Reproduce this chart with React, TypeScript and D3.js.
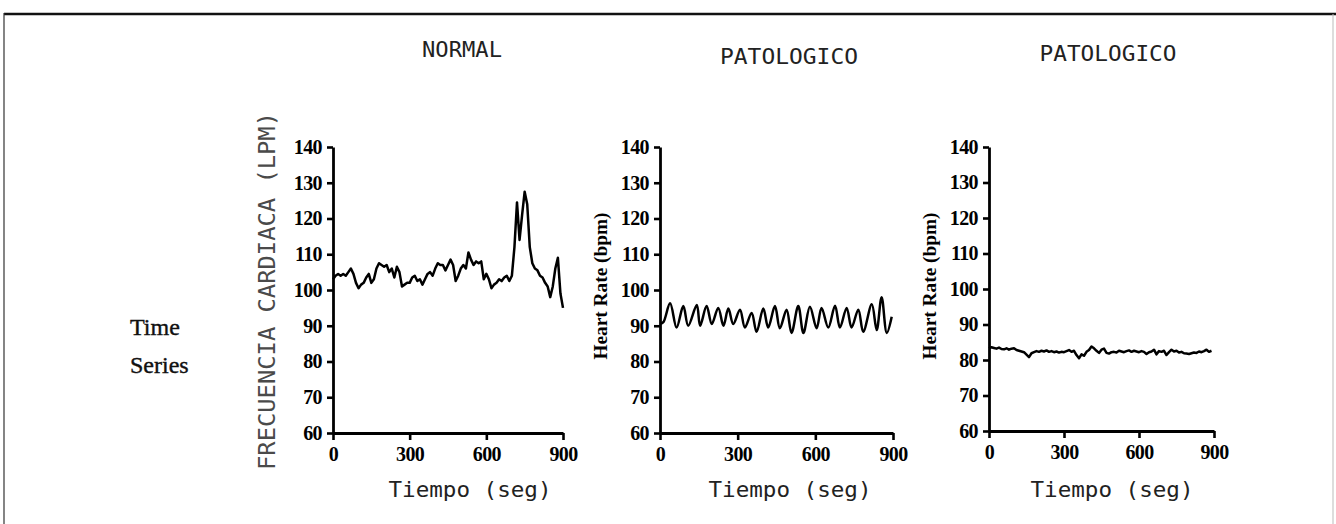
import { useEffect, useRef } from 'react';
import * as d3 from 'd3';

// axis ticks shared by the three panels
const yTicks = [60, 70, 80, 90, 100, 110, 120, 130, 140];
const xTicks = [0, 300, 600, 900];
const panelTitles = ['NORMAL', 'PATOLOGICO', 'PATOLOGICO'];
const yLabels = ['FRECUENCIA CARDIACA  (LPM)', 'Heart Rate (bpm)', 'Heart Rate (bpm)'];
const xLabel = 'Tiempo (seg)';
const rowLabel = ['Time', 'Series'];

// seconds between samples for the recorded series
const SAMPLE_STEP = 10;

// NORMAL, bpm every 10 s (0..900)
const normalHR = [
  103, 104, 104.5, 104, 104.5, 104, 105, 106, 104.5, 102,
  100.5, 101.5, 102, 103.5, 104.5, 102, 103, 106, 107.5, 107,
  106.5, 107, 105, 106, 103.5, 106.5, 105, 101, 101.5, 102,
  102, 103.5, 104, 102.5, 103, 101.5, 103, 104.5, 105, 104,
  106, 107.5, 107, 107, 105.5, 107, 108.5, 107, 102.5, 104,
  106, 107, 106, 110.5, 108.5, 107, 108, 107.5, 108, 103,
  104.5, 103, 100.5, 101.5, 102, 103, 102.5, 103.5, 104, 102.5,
  104, 112, 124.5, 114, 121, 127.5, 124, 112, 107.5, 106,
  105.5, 104, 103.5, 102, 101, 98, 101, 106, 109, 99,
  95
];

// PATOLOGICO (oscillating): turning points
const oscTime = [
  0, 13, 39, 64, 90, 109, 142, 155, 180, 200, 225, 245, 264, 283, 309, 328,
  354, 373, 399, 418, 444, 463, 489, 508, 534, 554, 579, 605, 624, 650, 676,
  695, 721, 740, 766, 785, 818, 837, 856, 876, 895
];
const oscHR = [
  90.5, 91, 96.3, 89.5, 95.5, 90, 95.8, 90, 95.5, 90.5, 95, 90, 94.8, 90.5, 94.5, 89.5,
  93.6, 88.3, 94.8, 89.5, 95.5, 89.3, 94.5, 88, 95.5, 88, 95.3, 89.3, 95, 89.5, 95.6,
  89.5, 95, 89.5, 94.5, 88.3, 96, 88.8, 98, 88, 92.5
];

// PATOLOGICO (flat), bpm every 10 s (0..890)
const flatHR = [
  83.3, 83.6, 83.4, 83.2, 83.5, 83.1, 83, 83.3, 82.9, 83.2,
  83.3, 82.8, 82.6, 82.4, 82.2, 81.5, 80.8, 81.9, 82.2, 82.5,
  82.3, 82.6, 82.4, 82.7, 82.3, 82.5, 82.2, 82.4, 82.1, 82.3,
  82.2, 82.5, 82.8, 82.3, 82.6, 81.4, 80.5, 81.6, 81.2, 82.3,
  82.8, 83.8, 83.3, 82.6, 82, 82.9, 83.2, 82, 81.8, 82.2,
  82.3, 82.1, 82.6, 82.4, 82.2, 82.5, 82.7, 82.3, 82.6, 82.4,
  82.2, 82.5, 82.3, 81.7, 82.2, 82.4, 82.9, 81.6, 82.5, 82.3,
  82.6, 81.4, 82.2, 82.9, 82.4, 82.6, 82.1, 82.3, 81.9, 81.8,
  81.7, 81.9, 82.1, 82, 82.4, 82.2, 82.5, 82.9, 82.3, 82.6
];

const W = 1336;
const H = 524;
const MONO = '"DejaVu Sans Mono", monospace';
const SERIF = '"Liberation Serif", "Times New Roman", serif';

const App = () => {
  const svgRef = useRef(null);

  useEffect(() => {
    const svg = d3.select(svgRef.current);
    svg.selectAll('*').remove();

    // frame of the scanned page
    svg.append('line')
      .attr('x1', 4).attr('x2', W).attr('y1', 14).attr('y2', 14)
      .attr('stroke', '#111').attr('stroke-width', 2.5);
    svg.append('line')
      .attr('x1', 4).attr('x2', 4).attr('y1', 13).attr('y2', H)
      .attr('stroke', '#333').attr('stroke-width', 1.2);
    svg.append('line')
      .attr('x1', 1333).attr('x2', 1333).attr('y1', 14).attr('y2', H)
      .attr('stroke', '#bbb').attr('stroke-width', 1);

    // row label on the left
    rowLabel.forEach((t, i) => {
      svg.append('text')
        .attr('x', 130)
        .attr('y', 335 + i * 38)
        .style('font-family', SERIF)
        .style('font-size', '24px')
        .attr('fill', '#111')
        .attr('stroke', '#111')
        .attr('stroke-width', 0.4)
        .text(t);
    });

    const normalSeries = normalHR.map((v, i) => ({ t: i * SAMPLE_STEP, v }));
    const oscSeries = oscTime.map((t, i) => ({ t, v: oscHR[i] }));
    const flatSeries = flatHR.map((v, i) => ({ t: i * SAMPLE_STEP, v }));

    const panels = [
      { left: 333, right: 563, top: 147, bottom: 433, data: normalSeries, curve: d3.curveLinear,
        titleX: 462, titleY: 57, titleLen: 80, xLabelX: 470, yLabelX: 275, yLabelY: 291 },
      { left: 660, right: 893, top: 147, bottom: 433, data: oscSeries, curve: d3.curveCatmullRom.alpha(0.5),
        titleX: 789, titleY: 64, titleLen: 138, xLabelX: 790, yLabelX: 607, yLabelY: 286 },
      { left: 989, right: 1214, top: 147, bottom: 431, data: flatSeries, curve: d3.curveLinear,
        titleX: 1108, titleY: 61, titleLen: 137, xLabelX: 1112, yLabelX: 936, yLabelY: 286 },
    ];

    panels.forEach((p, i) => {
      const x = d3.scaleLinear().domain([0, 900]).range([p.left, p.right]);
      const y = d3.scaleLinear().domain([60, 140]).range([p.bottom, p.top]);
      const g = svg.append('g');

      // y axis
      const yAxis = g.append('g')
        .attr('transform', `translate(${p.left},0)`)
        .call(d3.axisLeft(y).tickValues(yTicks).tickSize(6).tickSizeOuter(0).tickPadding(5));
      // x axis
      const xAxis = g.append('g')
        .attr('transform', `translate(0,${p.bottom})`)
        .call(d3.axisBottom(x).tickValues(xTicks).tickSize(7).tickSizeOuter(0).tickPadding(7));

      [yAxis, xAxis].forEach(a => {
        a.select('.domain').attr('stroke', '#000').attr('stroke-width', 2.8);
        a.selectAll('.tick line').attr('stroke', '#000').attr('stroke-width', 2.6);
        a.selectAll('.tick text')
          .attr('fill', '#000')
          .style('font-family', SERIF)
          .style('font-size', '20px')
          .style('font-weight', 'bold')
          .style('letter-spacing', '-0.6px');
      });

      // trace
      const line = d3.line()
        .x(d => x(d.t))
        .y(d => y(d.v))
        .curve(p.curve);
      g.append('path')
        .datum(p.data)
        .attr('d', line)
        .attr('fill', 'none')
        .attr('stroke', '#000')
        .attr('stroke-width', 2.5)
        .attr('stroke-linejoin', 'round');

      // panel title
      g.append('text')
        .attr('x', p.titleX)
        .attr('y', p.titleY)
        .attr('text-anchor', 'middle')
        .attr('textLength', p.titleLen)
        .attr('lengthAdjust', 'spacingAndGlyphs')
        .style('font-family', MONO)
        .style('font-size', '22px')
        .attr('fill', '#222')
        .text(panelTitles[i]);

      // x axis title
      g.append('text')
        .attr('x', p.xLabelX)
        .attr('y', 497)
        .attr('text-anchor', 'middle')
        .attr('textLength', 163)
        .attr('lengthAdjust', 'spacingAndGlyphs')
        .style('font-family', MONO)
        .style('font-size', '22px')
        .attr('fill', '#222')
        .text(xLabel);

      // y axis title
      const yl = g.append('text')
        .attr('transform', `translate(${p.yLabelX},${p.yLabelY}) rotate(-90)`)
        .attr('text-anchor', 'middle');
      if (i === 0) {
        yl.attr('textLength', 358)
          .attr('lengthAdjust', 'spacingAndGlyphs')
          .style('font-family', MONO)
          .style('font-size', '23px')
          .attr('fill', '#4a4a4a');
      } else {
        yl.attr('textLength', 147)
          .attr('lengthAdjust', 'spacingAndGlyphs')
          .style('font-family', SERIF)
          .style('font-size', '19px')
          .style('font-weight', 'bold')
          .attr('fill', '#000');
      }
      yl.text(yLabels[i]);
    });
  }, []);

  return (
    <svg
      ref={svgRef}
      width={W}
      height={H}
      style={{ position: 'absolute', left: 0, top: 0, background: '#fff' }}
    ></svg>
  );
};

export default App;
